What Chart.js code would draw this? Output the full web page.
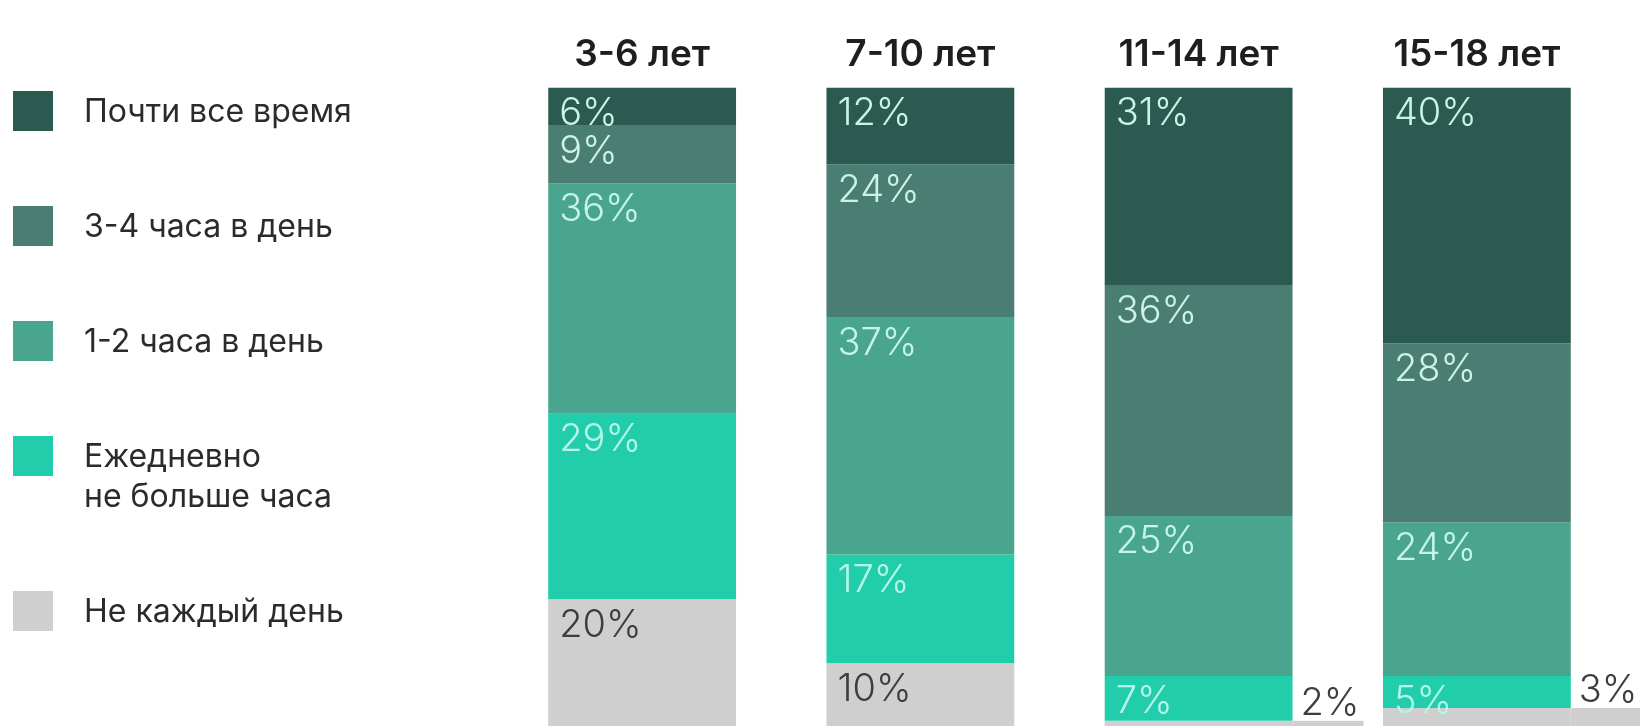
<!DOCTYPE html>
<html>
<head>
<meta charset="utf-8">
<script src="https://cdn.jsdelivr.net/npm/chart.js@4.4.1/dist/chart.umd.min.js"></script>
<style>
  html, body { margin: 0; padding: 0; background: #fff; overflow: hidden; }
  #wrap { position: relative; width: 1640px; height: 740px; }
  #legend { position: absolute; left: 13px; top: 91px; display: flex; flex-direction: column; gap: 75px;
            font-family: Inter, "Noto Sans", sans-serif; font-size: 32px; color: #2b2b2b; }
  .row { display: flex; align-items: flex-start; }
  .sw { width: 40px; height: 40px; flex: none; }
  .txt { margin-left: 31px; line-height: 40px; white-space: pre-line; }
</style>
</head>
<body>
<div id="wrap">
  <div id="legend"></div>
  <canvas id="chart"></canvas>
</div>
<script>
const categories = ["3-6 лет", "7-10 лет", "11-14 лет", "15-18 лет"];
const seriesNames = ["Почти все время", "3-4 часа в день", "1-2 часа в день", "Ежедневно\nне больше часа", "Не каждый день"];
const almostAlways = [6, 12, 31, 40];
const threeFourHours = [9, 24, 36, 28];
const oneTwoHours = [36, 37, 25, 24];
const underHourDaily = [29, 17, 7, 5];
const notDaily = [20, 10, 2, 3];

const colors = ["#2a5a50", "#4a7e72", "#4aa58e", "#22cdab", "#cfcfcf"];
const labelColors = ["#cdf2e7", "#cdf2e7", "#c4f5e8", "#b4f7e8", "#3d3d3d"];
const series = [almostAlways, threeFourHours, oneTwoHours, underHourDaily, notDaily];

// legend on the left as html (one label has two lines)
const legend = document.getElementById("legend");
seriesNames.forEach((name, i) => {
  const row = document.createElement("div");
  row.className = "row";
  row.innerHTML = '<div class="sw" style="background:' + colors[i] + '"></div><div class="txt"></div>';
  row.querySelector(".txt").textContent = name;
  legend.appendChild(row);
});

const segmentLabels = {
  id: "segmentLabels",
  afterDatasetsDraw(chart) {
    const ctx = chart.ctx;
    ctx.save();
    ctx.font = "300 38px Inter, 'Noto Sans', sans-serif";
    chart.data.datasets.forEach((ds, di) => {
      const meta = chart.getDatasetMeta(di);
      meta.data.forEach((bar, i) => {
        const v = ds.data[i];
        const top = Math.min(bar.y, bar.base);
        const left = bar.x - bar.width / 2;
        const right = bar.x + bar.width / 2;
        const txt = v + "%";
        ctx.fillStyle = labelColors[di];
        if (v < 4) {
          // tiny segment: label goes outside, grey strip runs under it
          const w = ctx.measureText(txt).width;
          ctx.fillStyle = ds.backgroundColor;
          ctx.fillRect(right, top, w + 12, Math.abs(bar.base - bar.y));
          ctx.fillStyle = labelColors[di];
          ctx.textBaseline = "alphabetic";
          ctx.fillText(txt, right + 8, top - 6);
        } else {
          ctx.textBaseline = "top";
          ctx.fillText(txt, left + 11, top + 7);
        }
      });
    });
    ctx.restore();
  }
};

new Chart(document.getElementById("chart").getContext("2d"), {
  type: "bar",
  data: {
    labels: categories,
    datasets: series.map((vals, i) => ({
      label: seriesNames[i],
      data: vals,
      backgroundColor: colors[i],
      borderWidth: 0,
      barPercentage: 0.9,
      categoryPercentage: 0.75
    }))
  },
  options: {
    responsive: true,
    maintainAspectRatio: false,
    animation: false,
    layout: { padding: { left: 503, right: 24, top: 23, bottom: 0 } },
    plugins: { legend: { display: false }, tooltip: { enabled: false } },
    scales: {
      x: {
        stacked: true,
        position: "top",
        grid: { display: false, drawTicks: false },
        border: { display: false },
        ticks: {
          color: "#1e1e1e",
          padding: 10,
          font: { family: "Inter, 'Noto Sans', sans-serif", size: 37, weight: 600 }
        }
      },
      y: {
        stacked: true,
        display: false,
        reverse: true,
        min: 0,
        max: 102
      }
    }
  },
  plugins: [segmentLabels]
});
</script>
</body>
</html>
